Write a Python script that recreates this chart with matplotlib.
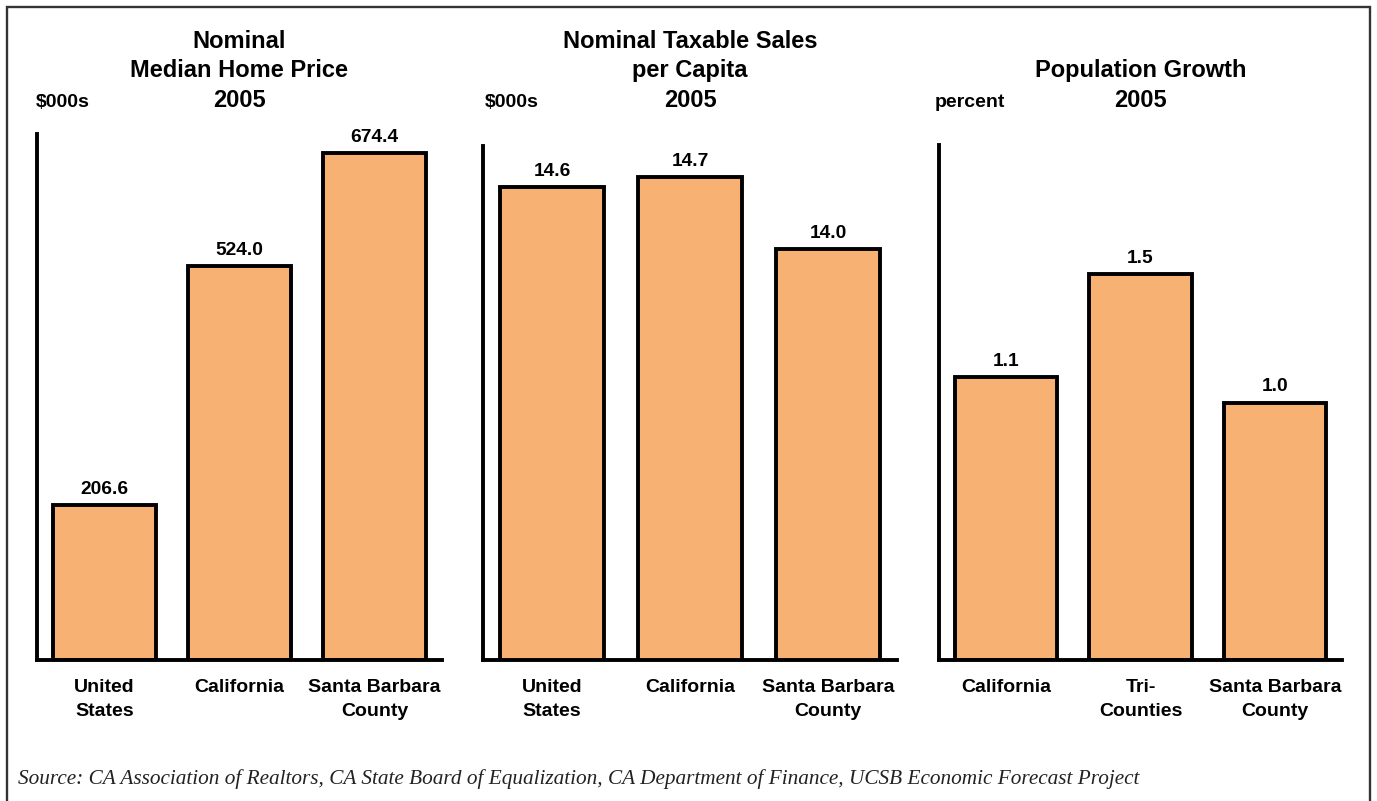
import matplotlib
matplotlib.use("Agg")
import matplotlib.pyplot as plt
from matplotlib.patches import Rectangle

plt.rcParams["font.family"] = ["Liberation Sans", "DejaVu Sans"]

# ---- data -------------------------------------------------------------
home_labels = ["United\nStates", "California", "Santa Barbara\nCounty"]
home_values = [206.6, 524.0, 674.4]

sales_labels = ["United\nStates", "California", "Santa Barbara\nCounty"]
sales_values = [14.6, 14.7, 14.0]

pop_labels = ["California", "Tri-\nCounties", "Santa Barbara\nCounty"]
pop_values = [1.1, 1.5, 1.0]

titles = [
    "Nominal\nMedian Home Price\n2005",
    "Nominal Taxable Sales\nper Capita\n2005",
    "Population Growth\n2005",
]
units = ["$000s", "$000s", "percent"]
source = ("Source: CA Association of Realtors, CA State Board of Equalization, "
          "CA Department of Finance, UCSB Economic Forecast Project")

# ---- layout (pixel geometry of a 1377x801 canvas) ---------------------
W, H = 1377, 801
BAR_COLOR = "#F6B173"
LW = 2.8


def fx(x):
    return x / W


def fy(y):
    return 1 - y / H


panels = [
    dict(labels=home_labels, values=home_values, ylim=(0, 700),
         box=(37, 442, 134), unit_x=36),
    dict(labels=sales_labels, values=sales_values, ylim=(10, 15),
         box=(483, 897, 146), unit_x=485),
    dict(labels=pop_labels, values=pop_values, ylim=(0, 2),
         box=(939, 1342, 145), unit_x=935),
]
BASE_Y = 660
TITLE_BASELINE = 107

fig = plt.figure(figsize=(W / 100, H / 100), dpi=100)

for p, title, unit in zip(panels, titles, units):
    left, right, top = p["box"]
    ax = fig.add_axes([fx(left), fy(BASE_Y), (right - left) / W, (BASE_Y - top) / H])
    xs = list(range(len(p["values"])))
    bars = ax.bar(xs, p["values"], width=0.76, color=BAR_COLOR,
                  edgecolor="black", linewidth=LW, zorder=2)
    ax.set_xlim(-0.5, len(xs) - 0.5)
    ax.set_ylim(*p["ylim"])

    for side in ("top", "right"):
        ax.spines[side].set_visible(False)
    for side in ("left", "bottom"):
        ax.spines[side].set_linewidth(LW)
        ax.spines[side].set_color("black")
        ax.spines[side].set_zorder(3)

    ax.set_yticks([])
    ax.set_xticks(xs, p["labels"], fontsize=14, fontweight="bold",
                  linespacing=1.58)
    ax.tick_params(axis="x", length=0, pad=13.5)

    for bar, v in zip(bars, p["values"]):
        ax.annotate(f"{v:.1f}", (bar.get_x() + bar.get_width() / 2, v),
                    xytext=(0, 8), textcoords="offset points",
                    ha="center", va="baseline", fontsize=13.8,
                    fontweight="bold")

    fig.text(fx((left + right) / 2), fy(TITLE_BASELINE), title,
             ha="center", va="baseline", fontsize=17, fontweight="bold",
             linespacing=1.37)
    fig.text(fx(p["unit_x"]), fy(107), unit, ha="left", va="baseline",
             fontsize=14, fontweight="bold", parse_math=False)

fig.text(fx(18), fy(784), source, ha="left", va="baseline",
         family="Liberation Serif", fontstyle="italic", fontsize=15.3,
         color="#222222")

# frame around the whole figure (open at the bottom edge of the canvas)
fig.patches.append(Rectangle((fx(7), -0.05), fx(1370) - fx(7), fy(7) + 0.05,
                             transform=fig.transFigure, fill=False,
                             edgecolor="#333333", linewidth=1.7))

fig.savefig("out.png", dpi=100)
